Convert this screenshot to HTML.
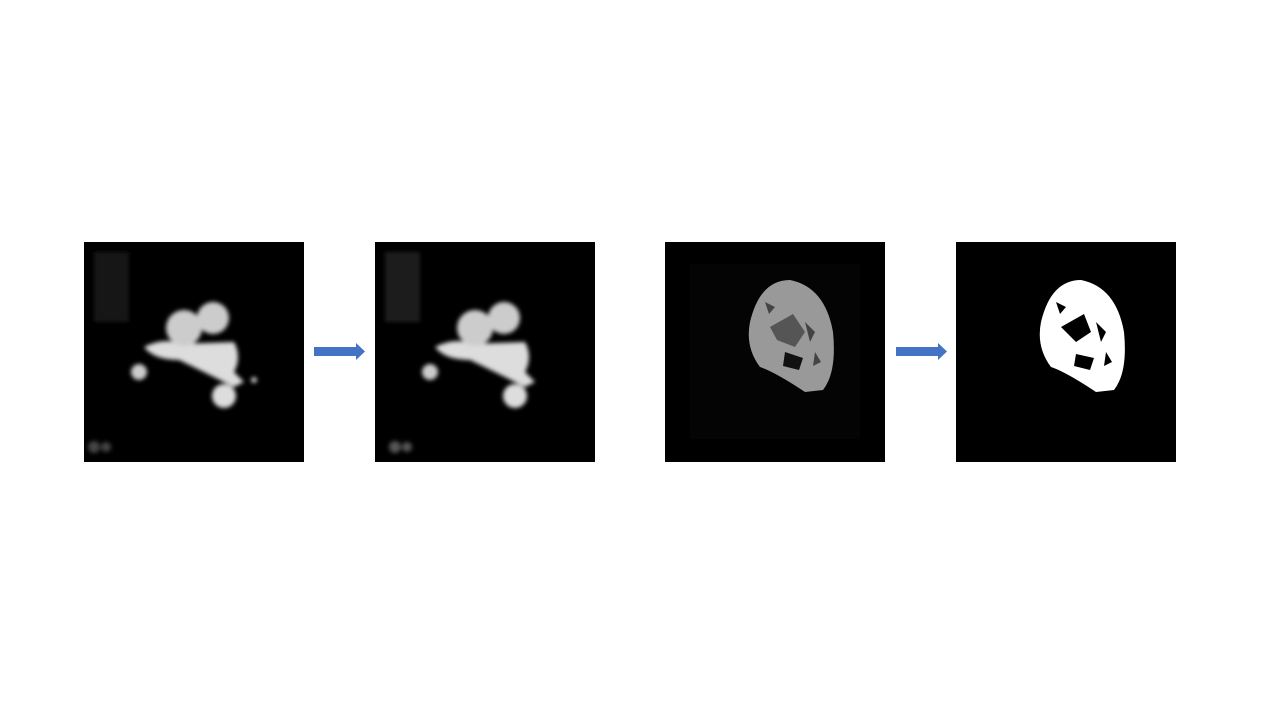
<!DOCTYPE html>
<html><head><meta charset="utf-8"><style>
body{margin:0;width:1280px;height:720px;background:#fff;overflow:hidden;position:relative;font-family:"Liberation Sans",sans-serif}
.img{position:absolute;top:242px;width:220px;height:220px;background:#000}
svg{position:absolute;left:0;top:0}
</style></head><body>
<div class="img" style="left:84px">
<svg width="220" height="220">
<defs><filter id="b"><feGaussianBlur stdDeviation="2"/></filter></defs>
<g filter="url(#b)">
<rect x="10" y="10" width="35" height="70" fill="#151515"/>
<path d="M60,105 Q80,95 95,102 L150,100 Q158,115 150,130 L160,140 L150,145 Q120,130 95,118 Q70,118 60,105Z" fill="#ddd"/>
<circle cx="100" cy="86" r="18" fill="#ccc"/>
<circle cx="129" cy="76" r="16" fill="#ccc"/>
<circle cx="140" cy="154" r="12" fill="#ddd"/>
<circle cx="55" cy="130" r="8" fill="#ccc"/>
<circle cx="170" cy="138" r="3" fill="#ccc"/>
<circle cx="10" cy="205" r="6" fill="#444"/><circle cx="22" cy="205" r="5" fill="#444"/>
</g></svg></div>
<div class="img" style="left:375px">
<svg width="220" height="220">
<g filter="url(#b)">
<rect x="10" y="10" width="35" height="70" fill="#1c1c1c"/>
<path d="M60,105 Q80,95 95,102 L150,100 Q158,115 150,130 L160,140 L150,145 Q120,130 95,118 Q70,118 60,105Z" fill="#ddd"/>
<circle cx="100" cy="86" r="18" fill="#ccc"/>
<circle cx="129" cy="76" r="16" fill="#ccc"/>
<circle cx="140" cy="154" r="12" fill="#ddd"/>
<circle cx="55" cy="130" r="8" fill="#ccc"/>
<circle cx="20" cy="205" r="6" fill="#555"/><circle cx="32" cy="205" r="5" fill="#555"/>
</g></svg></div>
<div class="img" style="left:665px">
<svg width="220" height="220">
<rect x="25" y="22" width="170" height="175" fill="#040404"/>
<path d="M85,80 Q95,38 125,38 Q160,45 168,90 Q172,130 158,148 L140,150 Q110,130 95,125 Q80,105 85,80Z" fill="#999"/>
<path d="M105,85 L128,72 L140,90 L130,105 L112,98Z" fill="#555"/>
<path d="M120,110 L138,116 L134,128 L118,124Z" fill="#111"/>
<path d="M100,60 L110,65 L104,72Z M140,80 L150,90 L145,100Z M150,110 L156,120 L148,124Z" fill="#444"/>
</svg></div>
<div class="img" style="left:956px">
<svg width="220" height="220">
<path d="M85,80 Q95,38 125,38 Q160,45 168,90 Q172,130 158,148 L140,150 Q110,130 95,125 Q80,105 85,80Z" fill="#fff"/>
<path d="M105,85 L128,72 L135,90 L120,100Z M140,80 L150,90 L145,100Z M120,112 L138,116 L134,128 L118,124Z M100,60 L110,65 L104,72Z M150,110 L156,120 L148,124Z" fill="#000"/>
</svg></div>
<svg width="1280" height="720">
<polygon points="314,347 356,347 356,343 365,351.5 356,360 356,356 314,356" fill="#4472c4"/>
<polygon points="896,347 938,347 938,343 947,351.5 938,360 938,356 896,356" fill="#4472c4"/>
</svg>
</body></html>
